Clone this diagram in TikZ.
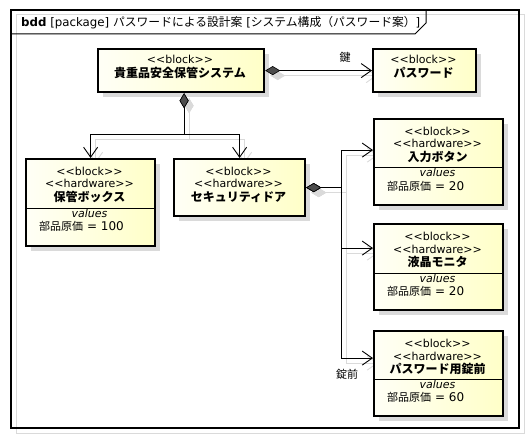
\documentclass[tikz,border=0pt]{standalone}
\usepackage{fontspec}
\setmainfont{DejaVu Sans}
\newfontfamily\jp{Noto Sans CJK JP}
\usetikzlibrary{arrows.meta,shadows}
\pgfdeclarelayer{bg}
\pgfsetlayers{bg,main}
\definecolor{boxlight}{RGB}{255,255,246}
\definecolor{boxdark}{RGB}{255,255,200}
\definecolor{shadowgray}{RGB}{218,218,218}
\tikzset{
  block/.style={draw, line width=2.2pt, left color=boxlight, right color=boxdark,
    inner sep=0pt, drop shadow={shadow xshift=5pt, shadow yshift=-5pt, fill=shadowgray, opacity=1}},
  lt/.style={font=\fontsize{11}{13}\selectfont, inner sep=0pt},
  nm/.style={font=\jp\bfseries\fontsize{12}{13}\selectfont, inner sep=0pt},
  vt/.style={font=\itshape\fontsize{11}{13}\selectfont, inner sep=0pt},
  val/.style={font=\fontsize{12}{13}\selectfont, inner sep=0pt},
  lbl/.style={font=\jp\fontsize{11}{13}\selectfont, inner sep=0pt},
  conn/.style={line width=0.9pt,
    {Diamond[length=15pt,width=9pt,line width=0.6pt,fill=black!70]}-{Straight Barb[length=10pt,width=14pt,line width=0.9pt]}},
  connshadow/.style={line width=0.9pt, draw=shadowgray,
    {Diamond[length=15pt,width=9pt,line width=0.6pt,fill=shadowgray]}-{Straight Barb[length=10pt,width=14pt,line width=0.9pt]}},
}
\newcommand\partblock[7]{%
  \node[block, anchor=north west, minimum width=129pt, minimum height={#4pt-#3pt}] (#1) at (#2,#3) {};
  \node[lt, anchor=base] (#1-s1) at (#2+64.5,#3+17.5) {<{}<block>{}>};
  \node[lt, anchor=base] (#1-s2) at (#2+64.5,#3+30) {<{}<hardware>{}>};
  \node[nm, anchor=base] (#1-n) at (#2+64.5,#3+43.5) {#6};
  \draw[line width=1pt] (#1.west |- 0,#5) -- (#1.east |- 0,#5);
  \node[vt, anchor=base] (#1-v) at (#2+64.5,#5+9) {values};
  \node[val, anchor=base west] (#1-p) at (#2+14,#5+22.5) {{\jp\fontsize{11}{13}\selectfont 部品原価} = #7};
}
\newcommand\connectors[1]{%
  \draw[#1] (sys.east) -- (pw.west);
  \draw[#1] ([xshift=3pt]sys.south) -- ++(0,41) -| (hk.north);
  \draw[#1] ([xshift=3pt]sys.south) -- ++(0,41) -| (sd.north);
  \draw[#1] (sd.east) -- ++(35,0) |- ([yshift=12pt]ib.west);
  \draw[#1] (sd.east) -- ++(35,0) |- ([yshift=19pt]lm.west);
  \draw[#1] (sd.east) -- ++(35,0) |- ([yshift=15.5pt]lk.west);
}
\begin{document}
\begin{tikzpicture}[x=1pt,y=-1pt]
\useasboundingbox (0,0) rectangle (529,438);
% frame
\begin{pgfonlayer}{bg}
\draw[shadowgray, line width=1pt] (16,15) rectangle (524,433);
\end{pgfonlayer}
\draw[line width=1.1pt] (11,10) rectangle (519,428);
\draw[line width=1pt] (11,34) -- (415,34) -- (426,23) -- (426,10);
\node[anchor=base west, inner sep=0pt, font=\fontsize{11.8}{12}\selectfont] (title) at (21,26.5)
  {\textbf{bdd} [package] {\jp\fontsize{11.8}{12}\selectfont パスワードによる設計案} [{\jp\fontsize{11.8}{12}\selectfont システム構成（パスワード案）}]};
% simple blocks
\node[block, anchor=north west, minimum width=166pt, minimum height=43pt] (sys) at (97,48) {};
\node[lt, anchor=base] (sys-s) at (180,64) {<{}<block>{}>};
\node[nm, anchor=base] (sys-n) at (180,78) {貴重品安全保管システム};
\node[block, anchor=north west, minimum width=103pt, minimum height=43pt] (pw) at (372,48) {};
\node[lt, anchor=base] (pw-s) at (423.5,64) {<{}<block>{}>};
\node[nm, anchor=base] (pw-n) at (423.5,78) {パスワード};
\node[block, anchor=north west, minimum width=131pt, minimum height=57pt] (sd) at (173,158) {};
\node[lt, anchor=base] (sd-s1) at (238.5,175.5) {<{}<block>{}>};
\node[lt, anchor=base] (sd-s2) at (238.5,188) {<{}<hardware>{}>};
\node[nm, anchor=base] (sd-n) at (238.5,201.5) {セキュリティドア};
% compartment blocks
\partblock{hk}{25}{158}{245}{208}{保管ボックス}{100}
\partblock{ib}{373}{118}{204}{168}{入力ボタン}{20}
\partblock{lm}{373}{223}{309}{273}{液晶モニタ}{20}
\partblock{lk}{373}{330}{415}{379}{パスワード用錠前}{60}
% connectors
\begin{pgfonlayer}{bg}
\begin{scope}[transform canvas={shift={(5pt,-5pt)}}]
\connectors{connshadow}
\end{scope}
\end{pgfonlayer}
\connectors{conn}
\node[lbl] (key) at (345,57) {鍵};
\node[lbl] (lock) at (347,374) {錠前};
\end{tikzpicture}
\end{document}
